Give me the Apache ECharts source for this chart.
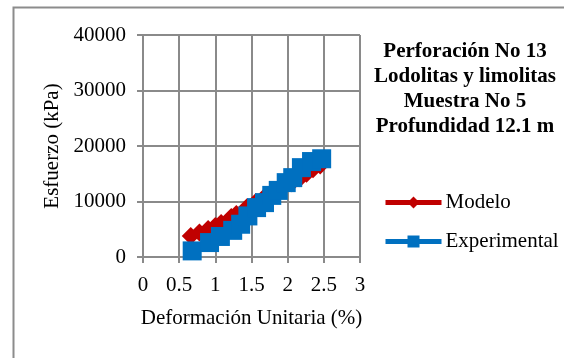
<!DOCTYPE html>
<html>
<head>
<meta charset="utf-8">
<script src="https://cdn.jsdelivr.net/npm/echarts@6/dist/echarts.min.js"></script>
<style>
html,body{margin:0;padding:0;background:#fff;}
#c{width:564px;height:358px;}
</style>
</head>
<body>
<div id="c"></div>
<script>
// Data
var titleLines = ['Perforación No 13', 'Lodolitas y limolitas', 'Muestra No 5', 'Profundidad 12.1 m'];
var seriesNames = ['Modelo', 'Experimental'];
var xAxisTitle = 'Deformación Unitaria (%)';
var yAxisTitle = 'Esfuerzo (kPa)';

var modeloX = [0.66, 0.78, 0.90, 1.00, 1.08, 1.22, 1.29, 1.44, 1.56, 1.68, 1.80, 1.92, 2.05, 2.17, 2.26, 2.35, 2.45];
var modeloY = [3800, 4400, 5050, 5600, 6130, 7210, 7750, 9000, 9900, 10800, 11700, 12500, 13300, 14200, 15000, 15800, 16500];

var expX = [0.68, 0.92, 1.07, 1.24, 1.35, 1.45, 1.57, 1.68, 1.78, 1.87, 1.98, 2.07, 2.19, 2.33, 2.47];
var expY = [1100, 2600, 3700, 4800, 5900, 7400, 8900, 9800, 11100, 12000, 13400, 14300, 16100, 17200, 17700];

function pairs(xs, ys) { return xs.map(function (x, i) { return [x, ys[i]]; }); }

var FONT = 'Liberation Serif';
var GRID = '#8a8a8a';

var chart = echarts.init(document.getElementById('c'), null, {renderer: 'canvas'});
chart.setOption({
  backgroundColor: '#ffffff',
  animation: false,
  graphic: [{
    type: 'rect', left: 11, top: 5,
    shape: {width: 620, height: 420},
    style: {fill: 'none', stroke: '#8c8c8c', lineWidth: 2}
  }],
  title: {
    text: titleLines.join('\n'),
    left: 465, top: 39, textAlign: 'center', padding: 0,
    textStyle: {fontFamily: FONT, fontWeight: 'bold', fontSize: 21, lineHeight: 25, color: '#000'}
  },
  legend: {
    orient: 'vertical', left: 383, top: 192, padding: 0,
    itemWidth: 56, itemHeight: 15, itemGap: 18,
    lineStyle: {width: 5},
    textStyle: {fontFamily: FONT, fontSize: 21, lineHeight: 21, color: '#000', padding: [0,0,0,-1]},
    data: seriesNames
  },
  grid: {left: 143, right: 204, top: 35, bottom: 101, containLabel: false},
  xAxis: {
    type: 'value', min: 0, max: 3, interval: 0.5,
    name: xAxisTitle, nameLocation: 'middle', nameGap: 51,
    nameTextStyle: {fontFamily: FONT, fontSize: 21, color: '#000'},
    axisLine: {show: true, lineStyle: {color: GRID, width: 2}},
    axisTick: {show: true, inside: false, length: 6, lineStyle: {color: GRID, width: 2}},
    axisLabel: {fontFamily: FONT, fontSize: 21, color: '#000', margin: 18},
    splitLine: {show: true, lineStyle: {color: GRID, width: 2}}
  },
  yAxis: {
    type: 'value', min: 0, max: 40000, interval: 10000,
    name: yAxisTitle, nameLocation: 'middle', nameGap: 80, nameRotate: 90,
    nameTextStyle: {fontFamily: FONT, fontSize: 21, color: '#000'},
    axisLine: {show: true, lineStyle: {color: GRID, width: 2}},
    axisTick: {show: true, inside: false, length: 6, lineStyle: {color: GRID, width: 2}},
    axisLabel: {fontFamily: FONT, fontSize: 21, color: '#000', margin: 17,
      formatter: function (v) { return String(v); }},
    splitLine: {show: true, lineStyle: {color: GRID, width: 2}}
  },
  series: [{
    name: seriesNames[0], type: 'line',
    data: pairs(modeloX, modeloY),
    symbol: 'diamond', symbolSize: 18,
    lineStyle: {color: '#C00000', width: 5},
    itemStyle: {color: '#C00000'}
  }, {
    name: seriesNames[1], type: 'line',
    data: pairs(expX, expY),
    symbol: 'rect', symbolSize: 19,
    lineStyle: {color: '#0070C0', width: 5},
    itemStyle: {color: '#0070C0'}
  }]
});
</script>
</body>
</html>
